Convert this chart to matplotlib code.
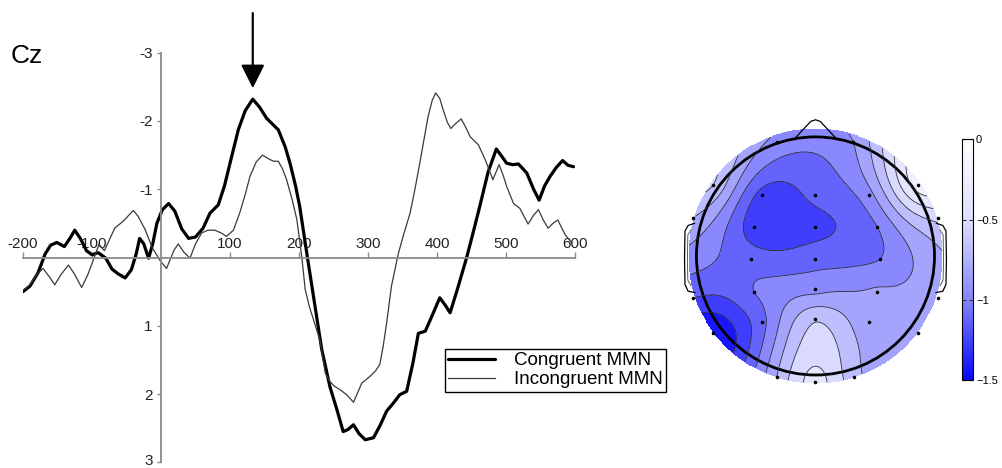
import numpy as np
import matplotlib
matplotlib.use('Agg')
import matplotlib.pyplot as plt
import matplotlib.transforms as mtransforms
from matplotlib.colors import LinearSegmentedColormap, Normalize
from matplotlib.cm import ScalarMappable
from matplotlib.patches import Circle

plt.rcParams['font.family'] = ['Liberation Sans', 'DejaVu Sans']

# ---------------- ERP data (ms, microvolts; negative plotted up) ----------------
time_cong = [-200, -190, -178, -168, -160, -151, -140, -132, -125, -117, -108, -100, -91, -80,
             -71, -62, -52, -43, -36, -31, -25, -18, -12, -6, 2, 11, 20, 30, 40, 50, 61, 71,
             83, 92, 100, 112, 122, 133, 143, 153, 162, 170, 180, 187, 195, 201, 207, 213,
             223, 233, 245, 255, 264, 271, 279, 287, 296, 308, 318, 327, 337, 346, 356, 365,
             373, 383, 393, 404, 412, 419, 430, 443, 452, 462, 474, 486, 494, 501, 510, 518,
             530, 540, 548, 556, 564, 573, 582, 590, 598]
amp_cong = [0.50, 0.42, 0.22, -0.05, -0.18, -0.22, -0.16, -0.28, -0.40, -0.28, -0.10, -0.04,
            -0.07, 0.01, 0.17, 0.24, 0.30, 0.18, -0.05, -0.28, -0.20, 0.01, -0.20, -0.50, -0.70,
            -0.79, -0.68, -0.42, -0.28, -0.30, -0.43, -0.65, -0.77, -1.05, -1.38, -1.87, -2.15,
            -2.32, -2.20, -2.04, -1.95, -1.87, -1.62, -1.38, -1.05, -0.75, -0.35, 0.05, 0.70,
            1.35, 1.90, 2.23, 2.55, 2.52, 2.45, 2.58, 2.67, 2.64, 2.45, 2.25, 2.13, 2.01, 1.96,
            1.55, 1.11, 1.08, 0.85, 0.59, 0.70, 0.81, 0.45, 0.00, -0.35, -0.75, -1.25, -1.59,
            -1.48, -1.38, -1.36, -1.37, -1.24, -1.00, -0.84, -1.05, -1.19, -1.32, -1.42, -1.35,
            -1.33]

time_incong = [-200, -190, -180, -171, -162, -154, -145, -134, -125, -115, -106, -96, -90, -82,
               -73, -67, -55, -40, -33, -23, -13, -1, 8, 19, 25, 33, 42, 50, 59, 68, 78, 87,
               95, 105, 114, 122, 129, 138, 147, 155, 163, 170, 176, 182, 190, 197, 204, 209,
               215, 221, 230, 238, 245, 252, 260, 269, 279, 285, 291, 303, 311, 317, 322, 327,
               334, 344, 352, 361, 368, 375, 387, 393, 398, 404, 409, 415, 420, 428, 435, 442,
               448, 460, 470, 481, 490, 496, 501, 511, 520, 532, 540, 547, 554, 561, 568, 575,
               580, 586, 595]
amp_incong = [0.48, 0.40, 0.25, 0.16, 0.28, 0.40, 0.25, 0.11, 0.25, 0.44, 0.25, -0.02, -0.19,
              -0.10, -0.30, -0.43, -0.53, -0.69, -0.60, -0.41, -0.15, 0.05, 0.16, -0.11, -0.20,
              -0.08, 0.01, -0.20, -0.36, -0.40, -0.40, -0.36, -0.31, -0.40, -0.65, -0.92, -1.19,
              -1.40, -1.50, -1.45, -1.41, -1.41, -1.30, -1.14, -0.85, -0.55, -0.01, 0.47, 0.72,
              0.91, 1.20, 1.69, 1.82, 1.89, 1.94, 2.01, 2.12, 1.98, 1.84, 1.74, 1.66, 1.57, 1.30,
              0.96, 0.42, -0.06, -0.35, -0.65, -1.00, -1.38, -2.06, -2.30, -2.41, -2.33, -2.16,
              -1.98, -1.89, -1.97, -2.03, -1.90, -1.77, -1.65, -1.43, -1.14, -1.36, -1.20, -1.04,
              -0.79, -0.72, -0.49, -0.62, -0.70, -0.55, -0.43, -0.50, -0.55, -0.45, -0.33, -0.22]

x_ticks = [-200, -100, 100, 200, 300, 400, 500, 600]
x_tick_labels = ['-200', '-100', '100', '200', '300', '400', '500', '600']
y_ticks = [-3, -2, -1, 1, 2, 3]
y_tick_labels = ['-3', '-2', '-1', '1', '2', '3']
series_names = ['Congruent MMN', 'Incongruent MMN']
arrow_time = 133

# ---------------- Topography data (head units, radius 0.5 = head outline) ----------------
elec_x = [-0.226, 0.0, 0.226, -0.258, 0.0, 0.26, -0.271, 0.0, 0.271, -0.258, 0.0, 0.257,
          -0.226, 0.0, 0.226]
elec_y = [0.256, 0.256, 0.256, 0.121, 0.121, 0.121, -0.013, -0.013, -0.013, -0.15, -0.139,
          -0.15, -0.276, -0.265, -0.276]
elec_val = [-1.25, -1.15, -0.95, -1.28, -1.25, -1.05, -1.12, -1.1, -1.05, -1.05, -0.95,
            -0.88, -1.1, -0.62, -0.85]
edge_x = [-0.162, 0.158, -0.43, -0.515, -0.515, -0.432, -0.163, 0.0, 0.162, 0.43, 0.515,
          0.515, 0.432, -0.36]
edge_y = [0.48, 0.48, 0.298, 0.16, -0.176, -0.322, -0.507, -0.528, -0.507, 0.298, 0.16,
          -0.176, -0.322, -0.26]
edge_val = [-0.95, -0.9, -0.6, -0.75, -1.2, -1.5, -0.75, -0.4, -0.7, -0.22, -0.55,
            -0.82, -0.82, -1.33]
cbar_ticks = [0, -0.5, -1, -1.5]
cbar_labels = ['0', '\u22120.5', '\u22121', '\u22121.5']
vmin, vmax = -1.5, 0.0

W, H = 1002, 468
fig = plt.figure(figsize=(W / 100, H / 100), dpi=100)

# ---------------- ERP axes ----------------
gray = '#8a8a8a'
ax = fig.add_axes([23 / W, (H - 462.3) / H, (575 - 23) / W, (462.3 - 52.7) / H])
ax.set_xlim(-200, 600)
ax.set_ylim(3, -3)
l1, = ax.plot(time_cong, amp_cong, color='black', lw=2.3, solid_joinstyle='round',
              solid_capstyle='round')
l2, = ax.plot(time_incong, amp_incong, color='#3a3a3a', lw=0.9, solid_joinstyle='round')
ax.patch.set_alpha(0)
ax.spines['bottom'].set_visible(False)
ax.spines['right'].set_visible(False)
ax.spines['top'].set_position(('data', 0))
ax.spines['left'].set_position(('data', 0))
for s in ('top', 'left'):
    ax.spines[s].set_color(gray)
    ax.spines[s].set_linewidth(1.3)
ax.xaxis.set_ticks_position('top')
ax.set_xticks(x_ticks)
ax.set_xticklabels(x_tick_labels)
ax.set_yticks(y_ticks)
ax.set_yticklabels(y_tick_labels)
ax.tick_params(axis='x', direction='out', length=4, width=1, color=gray, pad=1,
               labelsize=11, labelcolor='#222222')
ax.tick_params(axis='y', direction='out', length=3, width=1, color=gray, pad=3,
               labelsize=11, labelcolor='#222222')
# keep the bottom "3" label inside the picture
last = ax.get_yticklabels()[-1]
last.set_transform(last.get_transform() +
                   mtransforms.ScaledTranslation(0, 3 / 100, fig.dpi_scale_trans))

ax.annotate('', xy=(arrow_time, -2.48), xytext=(arrow_time, -3.58),
            arrowprops=dict(arrowstyle='-|>,head_length=0.8,head_width=0.4', lw=1.6,
                            color='black', shrinkA=0, shrinkB=0, mutation_scale=18),
            annotation_clip=False)

fig.text(11 / W, 1 - 63 / H, 'Cz', fontsize=19, va='baseline', ha='left')

leg = ax.legend([l1, l2], series_names, loc='upper left',
                bbox_to_anchor=(444.5 / W, 1 - 348.5 / H), bbox_transform=fig.transFigure,
                borderaxespad=0, fontsize=13.5, frameon=True, fancybox=False,
                edgecolor='black', framealpha=1, handlelength=2.5, handletextpad=1.0,
                labelspacing=0.1, borderpad=0.2)
leg.get_frame().set_linewidth(1.0)

# ---------------- Topography ----------------
cmap = LinearSegmentedColormap.from_list(
    'wb', [(0.0, (0.02, 0.02, 0.98)), (1 / 3, (0.52, 0.52, 0.99)),
           (2 / 3, (0.87, 0.87, 1.0)), (1.0, (1.0, 1.0, 1.0))])

ax2 = fig.add_axes([680 / W, (H - 400) / H, 270 / W, 290 / H])
ax2.set_xlim(-0.569, 0.565)
ax2.set_ylim(-0.605, 0.613)
ax2.axis('off')

px = np.array(elec_x + edge_x)
py = np.array(elec_y + edge_y)
pv = np.array(elec_val + edge_val)


def green(r):
    with np.errstate(divide='ignore', invalid='ignore'):
        g = r ** 2 * (np.log(r) - 1)
    return np.where(r > 0, g, 0.0)


D = np.hypot(px[:, None] - px[None, :], py[:, None] - py[None, :])
w = np.linalg.solve(green(D), pv)
gx = np.linspace(-0.54, 0.54, 241)
GX, GY = np.meshgrid(gx, gx)
R = np.hypot(GX[..., None] - px, GY[..., None] - py)
Z = (green(R) * w).sum(axis=-1)
Z = np.clip(Z, vmin + 1e-3, vmax - 1e-3)
Z = np.ma.masked_where(np.hypot(GX, GY) > 0.535, Z)

levels = np.arange(-1.5, 0.001, 0.15)
ax2.contourf(GX, GY, Z, levels=levels, cmap=cmap, vmin=vmin, vmax=vmax)
ax2.contour(GX, GY, Z, levels=levels, colors='#2a2a3a', linewidths=0.6,
            linestyles='solid')

ax2.add_patch(Circle((0, 0), 0.5, fill=False, lw=2.0, color='black'))
nose_x = [-0.09, -0.02, 0.0, 0.02, 0.09]
nose_y = [0.49, 0.565, 0.572, 0.565, 0.49]
ax2.plot(nose_x, nose_y, color='black', lw=0.9)
ear_x = [0.508, 0.535, 0.548, 0.55, 0.548, 0.535, 0.506]
ear_y = [0.137, 0.128, 0.105, -0.01, -0.12, -0.148, -0.154]
for sgn in (-1, 1):
    ax2.plot([sgn * v for v in ear_x], ear_y, color='black', lw=0.9)
    ax2.plot([sgn * (v - 0.012) for v in ear_x[1:-1]], [v * 0.85 for v in ear_y[1:-1]],
             color='#444444', lw=0.6)
ax2.scatter(px[:len(elec_x) + 13], py[:len(elec_x) + 13], s=2.5, color='black', zorder=5)

# ---------------- Colorbar ----------------
cax = fig.add_axes([961.7 / W, (H - 380) / H, 11.6 / W, 240.7 / H])
sm = ScalarMappable(norm=Normalize(vmin, vmax), cmap=cmap)
cb = fig.colorbar(sm, cax=cax)
cb.set_ticks(cbar_ticks)
cb.set_ticklabels(cbar_labels)
cb.outline.set_linewidth(0.8)
cax.tick_params(direction='in', length=3, width=0.8, left=True, right=True,
                labelsize=8, pad=2, color='#333333')

fig.savefig('out.png', dpi=100)
